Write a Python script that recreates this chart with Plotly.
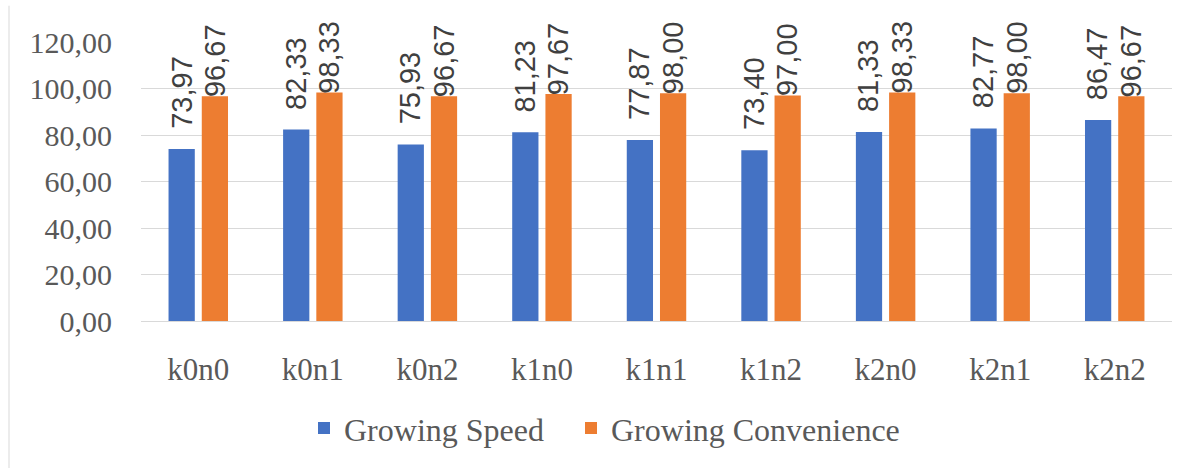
import plotly.graph_objects as go

categories = ["k0n0", "k0n1", "k0n2", "k1n0", "k1n1", "k1n2", "k2n0", "k2n1", "k2n2"]
speed = [73.97, 82.33, 75.93, 81.23, 77.87, 73.40, 81.33, 82.77, 86.47]
convenience = [96.67, 98.33, 96.67, 97.67, 98.00, 97.00, 98.33, 98.00, 96.67]
series_names = ["Growing Speed", "Growing Convenience"]
y_ticks = [0, 20, 40, 60, 80, 100, 120]

BLUE = "#4472C4"
ORANGE = "#ED7D31"
SERIF = "Liberation Serif"
SANS = "Liberation Sans"
GREY = "#595959"

def fmt(v):
    return f"{v:.2f}".replace(".", ",")

fig = go.Figure()
fig.add_trace(go.Bar(x=categories, y=speed, name=series_names[0], legend="legend",
                     marker=dict(color=BLUE, line=dict(width=0))))
fig.add_trace(go.Bar(x=categories, y=convenience, name=series_names[1], legend="legend2",
                     marker=dict(color=ORANGE, line=dict(width=0))))

annotations = []
for c, s, v in zip(categories, speed, convenience):
    annotations.append(dict(x=c, y=s, xref="x", yref="y", text=fmt(s), textangle=-90,
                            showarrow=False, xanchor="center", yanchor="bottom",
                            xshift=-17, yshift=18,
                            font=dict(family=SANS, size=29, color="#404040")))
    annotations.append(dict(x=c, y=v, xref="x", yref="y", text=fmt(v), textangle=-90,
                            showarrow=False, xanchor="center", yanchor="bottom",
                            xshift=16, yshift=-3,
                            font=dict(family=SANS, size=29, color="#404040")))

legend_common = dict(orientation="h", xanchor="left", xref="container",
                     y=0.085, yanchor="middle", yref="container",
                     font=dict(family=SERIF, size=32, color=GREY),
                     itemwidth=30, bgcolor="rgba(0,0,0,0)")

fig.update_layout(
    width=1186, height=468,
    margin=dict(l=141, r=14, t=42, b=147, autoexpand=False),
    paper_bgcolor="white", plot_bgcolor="white",
    barmode="group", bargap=0.42, bargroupgap=0.21,
    separators=", ",
    showlegend=True,
    legend=dict(x=(345 - 41) / 1186, **legend_common),
    legend2=dict(x=(612 - 41) / 1186, **legend_common),
    annotations=annotations,
    shapes=[dict(type="line", xref="paper", yref="paper",
                 x0=-132/1031, x1=-132/1031, y0=1.13, y1=-0.6,
                 line=dict(color="#D9D9D9", width=1))],
)
fig.update_xaxes(showgrid=False, showline=True, linecolor="#D9D9D9", linewidth=1,
                 tickfont=dict(family=SERIF, size=31, color=GREY),
                 ticks="", ticklabelstandoff=21)
fig.update_yaxes(range=[0, 120], tickvals=y_ticks, tickformat=".2f",
                 showgrid=True, gridcolor="#D9D9D9", gridwidth=1,
                 zeroline=False, showline=False,
                 tickfont=dict(family=SERIF, size=30, color=GREY),
                 ticks="", ticklabelstandoff=28)

fig.write_html("out.html")
